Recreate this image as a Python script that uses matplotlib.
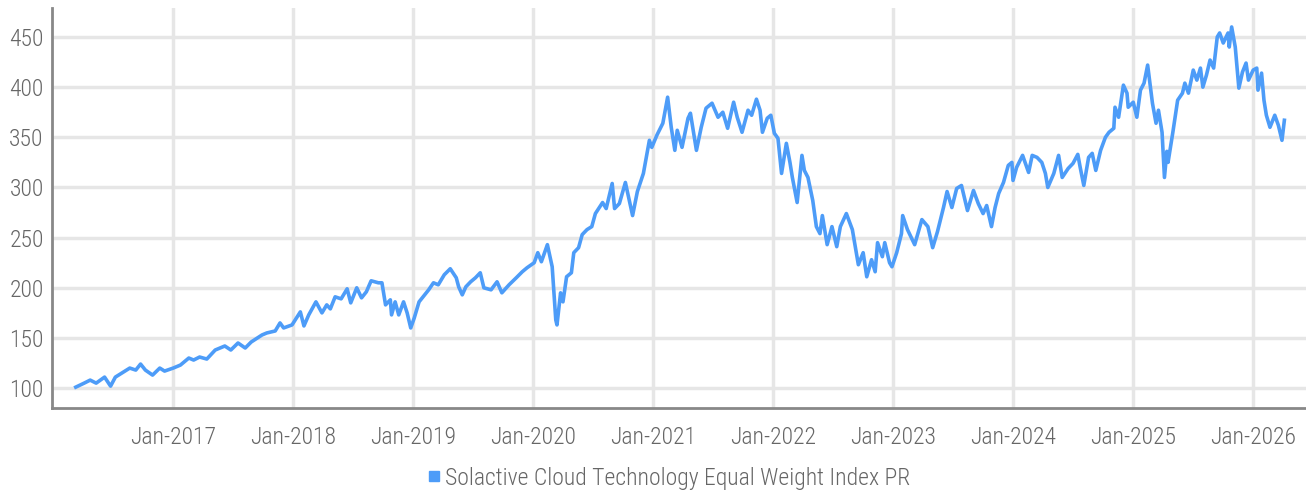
import matplotlib
matplotlib.use("Agg")
import matplotlib.pyplot as plt
from matplotlib.lines import Line2D
import pandas as pd

# decimal year of each reading
years = [
    2016.19, 2016.26, 2016.31, 2016.36, 2016.43, 2016.48, 2016.52, 2016.64, 2016.69, 2016.73,
    2016.77, 2016.83, 2016.89, 2016.93, 2017.00, 2017.06, 2017.13, 2017.17, 2017.22, 2017.28,
    2017.35, 2017.43, 2017.48, 2017.54, 2017.60, 2017.65, 2017.74, 2017.78, 2017.85, 2017.89,
    2017.92, 2017.99, 2018.06, 2018.09, 2018.13, 2018.19, 2018.24, 2018.28, 2018.31, 2018.35,
    2018.40, 2018.45, 2018.48, 2018.53, 2018.57, 2018.61, 2018.65, 2018.71, 2018.74, 2018.77,
    2018.81, 2018.82, 2018.85, 2018.88, 2018.92, 2018.95, 2018.98, 2019.01, 2019.05, 2019.13,
    2019.17, 2019.21, 2019.26, 2019.31, 2019.36, 2019.38, 2019.41, 2019.44, 2019.48, 2019.52,
    2019.56, 2019.59, 2019.65, 2019.70, 2019.74, 2019.80, 2019.86, 2019.91, 2019.95, 2020.01,
    2020.04, 2020.07, 2020.12, 2020.16, 2020.19, 2020.20, 2020.23, 2020.25, 2020.28, 2020.32,
    2020.34, 2020.38, 2020.41, 2020.45, 2020.49, 2020.52, 2020.58, 2020.61, 2020.66, 2020.68,
    2020.72, 2020.77, 2020.83, 2020.87, 2020.92, 2020.94, 2020.97, 2020.99, 2021.03, 2021.08,
    2021.12, 2021.15, 2021.18, 2021.20, 2021.24, 2021.29, 2021.31, 2021.36, 2021.40, 2021.44,
    2021.49, 2021.54, 2021.58, 2021.62, 2021.67, 2021.70, 2021.74, 2021.79, 2021.82, 2021.86,
    2021.89, 2021.91, 2021.95, 2021.98, 2022.01, 2022.04, 2022.07, 2022.11, 2022.14, 2022.16,
    2022.20, 2022.24, 2022.26, 2022.29, 2022.33, 2022.36, 2022.39, 2022.41, 2022.45, 2022.49,
    2022.53, 2022.56, 2022.61, 2022.66, 2022.71, 2022.75, 2022.78, 2022.82, 2022.85, 2022.87,
    2022.91, 2022.93, 2022.97, 2022.99, 2023.03, 2023.07, 2023.08, 2023.12, 2023.18, 2023.24,
    2023.29, 2023.33, 2023.37, 2023.42, 2023.45, 2023.49, 2023.53, 2023.57, 2023.62, 2023.67,
    2023.71, 2023.75, 2023.78, 2023.82, 2023.85, 2023.88, 2023.92, 2023.96, 2023.99, 2024.00,
    2024.03, 2024.08, 2024.13, 2024.16, 2024.20, 2024.24, 2024.27, 2024.29, 2024.34, 2024.38,
    2024.41, 2024.46, 2024.50, 2024.54, 2024.56, 2024.59, 2024.63, 2024.66, 2024.69, 2024.73,
    2024.77, 2024.80, 2024.84, 2024.85, 2024.88, 2024.92, 2024.95, 2024.96, 2025.00, 2025.03,
    2025.06, 2025.09, 2025.12, 2025.16, 2025.19, 2025.21, 2025.24, 2025.26, 2025.28, 2025.29,
    2025.33, 2025.37, 2025.41, 2025.43, 2025.46, 2025.50, 2025.53, 2025.56, 2025.58, 2025.61,
    2025.64, 2025.67, 2025.70, 2025.72, 2025.75, 2025.79, 2025.80, 2025.82, 2025.85, 2025.88,
    2025.91, 2025.94, 2025.96, 2026.00, 2026.03, 2026.04, 2026.07, 2026.09, 2026.11, 2026.14,
    2026.18, 2026.21, 2026.24, 2026.26,
]
index_values = [
    101, 105, 108, 105, 111, 102, 111, 120, 118, 124,
    118, 113, 120, 117, 120, 123, 130, 128, 131, 129,
    138, 142, 138, 145, 140, 146, 153, 155, 157, 165,
    160, 163, 176, 162, 173, 186, 175, 183, 179, 191,
    189, 199, 185, 200, 190, 196, 207, 205, 205, 183,
    188, 173, 186, 173, 186, 175, 160, 170, 186, 198,
    205, 203, 213, 219, 210, 201, 193, 201, 206, 210,
    215, 200, 198, 206, 195, 203, 210, 216, 220, 225,
    235, 226, 243, 221, 168, 163, 195, 186, 211, 215,
    235, 240, 253, 258, 261, 274, 285, 279, 304, 279,
    284, 305, 272, 296, 314, 327, 347, 340, 352, 364,
    390, 360, 337, 357, 340, 369, 374, 337, 360, 379,
    384, 370, 375, 359, 385, 370, 355, 377, 372, 388,
    377, 355, 369, 372, 354, 349, 314, 344, 325, 310,
    285, 332, 317, 310, 287, 261, 254, 272, 243, 261,
    241, 261, 274, 258, 223, 235, 211, 228, 216, 245,
    231, 245, 225, 221, 235, 254, 272, 258, 243, 268,
    261, 240, 256, 280, 296, 280, 299, 302, 277, 297,
    284, 274, 282, 261, 280, 294, 305, 322, 325, 307,
    320, 332, 315, 332, 330, 325, 314, 300, 314, 332,
    310, 319, 324, 333, 320, 302, 330, 334, 317, 337,
    350, 355, 359, 380, 370, 402, 394, 380, 385, 370,
    397, 404, 422, 384, 364, 377, 355, 310, 336, 325,
    355, 387, 394, 404, 394, 417, 407, 419, 400, 412,
    427, 419, 450, 454, 444, 454, 440, 460, 440, 399,
    415, 424, 407, 417, 419, 397, 414, 387, 372, 360,
    372, 362, 347, 367,
]
series_name = "Solactive Cloud Technology Equal Weight Index PR"
tick_years = list(range(2017, 2027))
y_ticks = [100, 150, 200, 250, 300, 350, 400, 450]

dates = [pd.Timestamp(int(y), 1, 1) + pd.Timedelta(days=(y - int(y)) * 365.25) for y in years]

plt.rcParams["font.family"] = ["Roboto Condensed", "Liberation Sans Narrow", "DejaVu Sans"]
plt.rcParams["font.weight"] = "light"
text_color = "#666666"
line_color = "#4d9cf8"
grid_color = "#e6e6e6"

fig = plt.figure(figsize=(13.06, 4.93), dpi=100)
ax = fig.add_axes([0.0398, 0.172, 0.96, 0.812])

ax.plot(dates, index_values, color=line_color, lw=2.6, solid_joinstyle="round")

ax.set_xlim(pd.Timestamp(2015, 12, 29), pd.Timestamp(2026, 6, 10))
ax.set_ylim(80, 479)
ax.set_xticks([pd.Timestamp(y, 1, 1) for y in tick_years])
ax.set_xticklabels([f"Jan-{y}" for y in tick_years])
ax.set_yticks(y_ticks)

ax.grid(True, color=grid_color, lw=2.5)
ax.set_axisbelow(True)
ax.tick_params(length=0, labelsize=17, labelcolor=text_color)
ax.tick_params(axis="x", pad=13)
ax.tick_params(axis="y", pad=6)
for side in ["top", "right"]:
    ax.spines[side].set_visible(False)
for side in ["left", "bottom"]:
    ax.spines[side].set_color("#888888")
    ax.spines[side].set_linewidth(2)

handle = Line2D([], [], marker="s", ls="none", color=line_color, markersize=7.5)
fig.legend([handle], [series_name], loc="center", bbox_to_anchor=(0.512, 0.03),
           frameon=False, fontsize=17, labelcolor=text_color,
           handlelength=0.6, handletextpad=0.15)

fig.savefig("out.png", dpi=100)
